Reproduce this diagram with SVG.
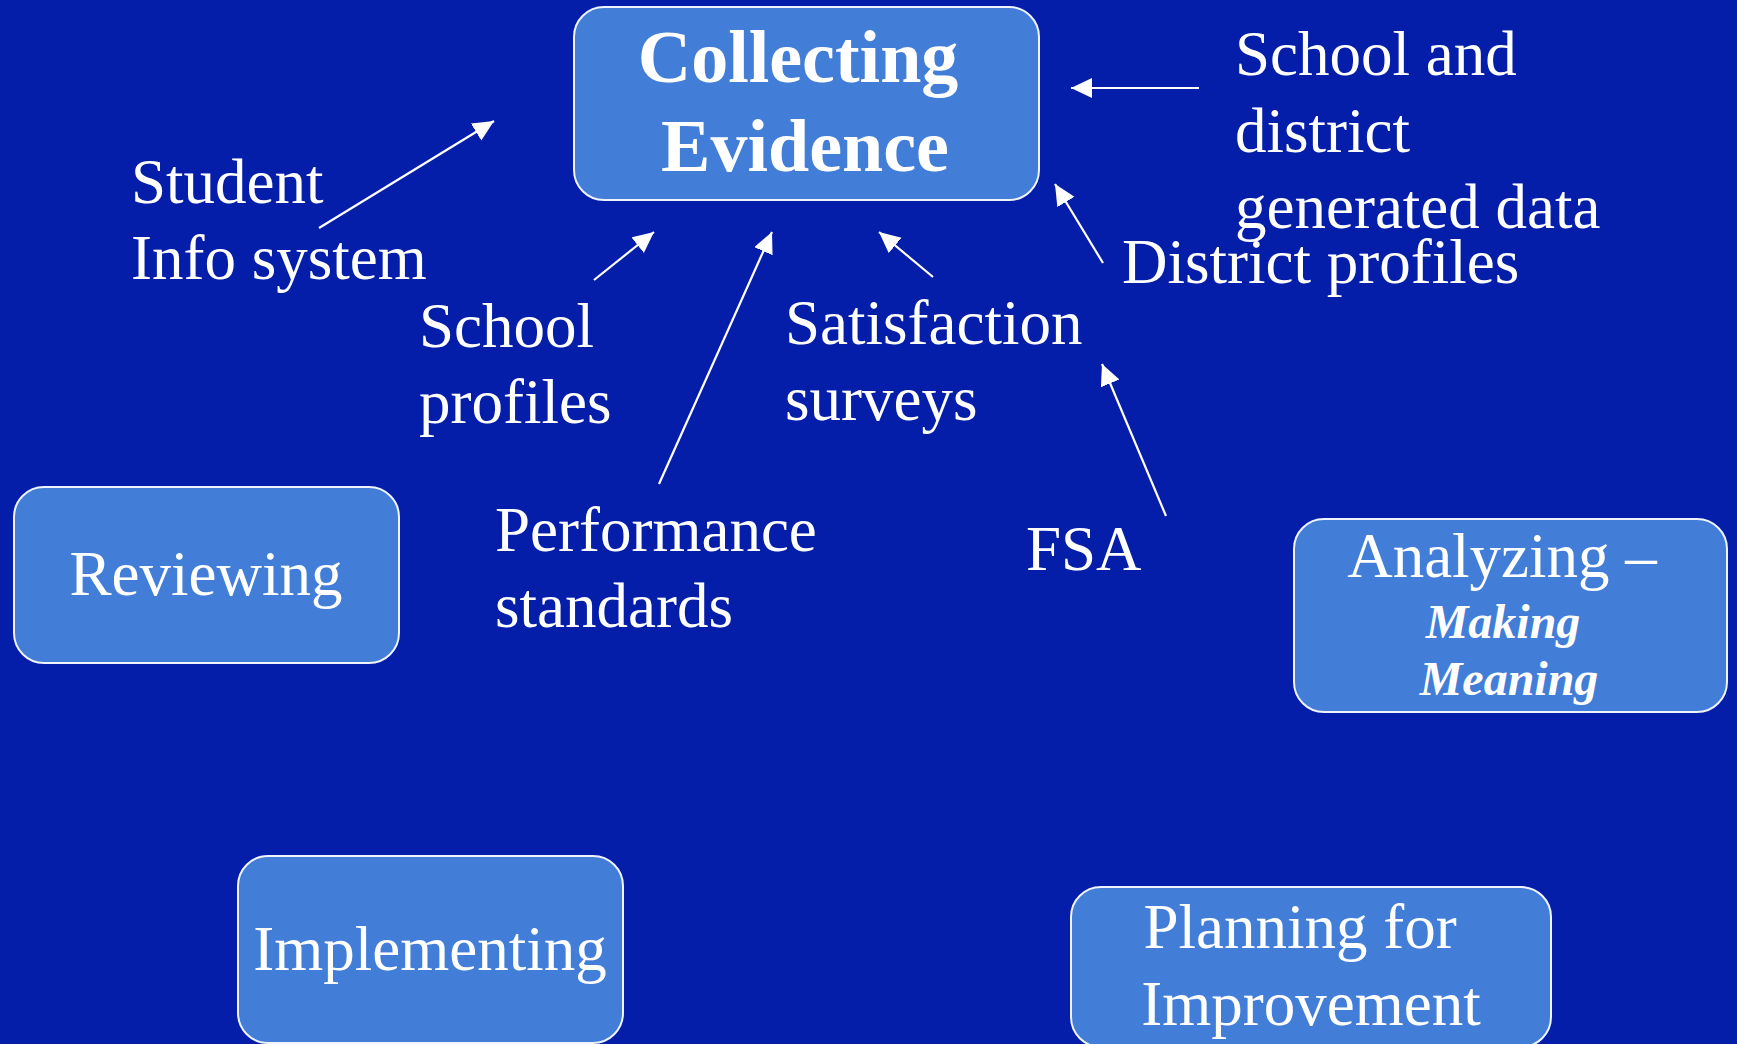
<svg xmlns="http://www.w3.org/2000/svg" width="1737" height="1044" viewBox="0 0 1737 1044">
  <style>
    .bg { fill: #051EAA; }
    .box { fill: #427ED7; stroke: #EEF3FC; stroke-width: 2; }
    text { font-family: "Liberation Serif", "Times New Roman", serif; fill: #FFFFFF; }
    .lbl { font-size: 63px; }
    .mid { text-anchor: middle; }
    .title { font-size: 74px; font-weight: bold; }
    .em { font-size: 48px; font-weight: bold; font-style: italic; }
    .conn { stroke: #FFFFFF; stroke-width: 2.2; fill: none; marker-end: url(#head); }
  </style>
  <defs>
    <marker id="head" markerUnits="userSpaceOnUse" markerWidth="22" markerHeight="22" refX="21" refY="10" orient="auto">
      <path d="M0,0 L21,10 L0,20 Z" fill="#FFFFFF"/>
    </marker>
  </defs>

  <rect class="bg" x="0" y="0" width="1737" height="1044"/>

  <!-- process stages -->
  <g id="collecting-evidence">
    <rect class="box" x="574" y="7" width="465" height="193" rx="30"/>
    <text class="title mid" x="798" y="82">Collecting</text>
    <text class="title mid" x="805" y="171">Evidence</text>
  </g>
  <g id="reviewing">
    <rect class="box" x="14" y="487" width="385" height="176" rx="30"/>
    <text class="lbl mid" x="206" y="595">Reviewing</text>
  </g>
  <g id="analyzing">
    <rect class="box" x="1294" y="519" width="433" height="193" rx="30"/>
    <text class="lbl mid" x="1502" y="577">Analyzing –</text>
    <text class="em mid" x="1503" y="638">Making</text>
    <text class="em mid" x="1509" y="695">Meaning</text>
  </g>
  <g id="implementing">
    <rect class="box" x="238" y="856" width="385" height="187" rx="30"/>
    <text class="lbl mid" x="430" y="970">Implementing</text>
  </g>
  <g id="planning">
    <rect class="box" x="1071" y="887" width="480" height="160" rx="30"/>
    <text class="lbl mid" x="1300" y="948">Planning for</text>
    <text class="lbl mid" x="1311" y="1025">Improvement</text>
  </g>

  <!-- evidence sources -->
  <g id="student-info">
    <text class="lbl" x="131" y="203">Student</text>
    <text class="lbl" x="131" y="279">Info system</text>
  </g>
  <g id="school-profiles">
    <text class="lbl" x="419" y="347">School</text>
    <text class="lbl" x="419" y="423">profiles</text>
  </g>
  <g id="performance-standards">
    <text class="lbl" x="495" y="551">Performance</text>
    <text class="lbl" x="495" y="627">standards</text>
  </g>
  <g id="satisfaction-surveys">
    <text class="lbl" x="785" y="344">Satisfaction</text>
    <text class="lbl" x="785" y="420">surveys</text>
  </g>
  <g id="fsa">
    <text class="lbl" x="1026" y="570">FSA</text>
  </g>
  <g id="district-profiles">
    <text class="lbl" x="1122" y="283">District profiles</text>
  </g>
  <g id="school-district-data">
    <text class="lbl" x="1235" y="75">School and</text>
    <text class="lbl" x="1235" y="152">district</text>
    <text class="lbl" x="1235" y="228">generated data</text>
  </g>

  <!-- connectors into Collecting Evidence -->
  <g id="connectors">
    <line class="conn" x1="319" y1="228" x2="494" y2="121"/>
    <line class="conn" x1="594" y1="280" x2="654" y2="232"/>
    <line class="conn" x1="659" y1="484" x2="772" y2="232"/>
    <line class="conn" x1="933" y1="277" x2="879" y2="232"/>
    <line class="conn" x1="1103" y1="263" x2="1055" y2="184"/>
    <line class="conn" x1="1166" y1="516" x2="1102" y2="364"/>
    <line class="conn" x1="1199" y1="88" x2="1071" y2="88"/>
  </g>
</svg>
